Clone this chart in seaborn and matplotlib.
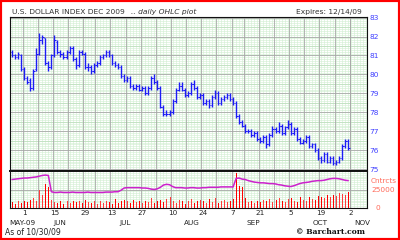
import numpy as np
import pandas as pd
import matplotlib
matplotlib.use('Agg')
import matplotlib.pyplot as plt
import matplotlib.transforms as mtransforms
from matplotlib.patches import Rectangle
import seaborn as sns

sns.set_style('white')
plt.rcParams['font.family'] = ['DejaVu Sans']

# ---------------- data ----------------
open_ = [81.2, 81.0, 80.9, 81.0, 80.3, 79.8, 79.7, 79.3, 80.3, 81.1,
         81.8, 81.9, 80.6, 80.4, 81.0, 81.7, 81.2, 81.1, 80.9, 81.2,
         81.4, 80.8, 80.5, 81.2, 81.1, 80.4, 80.4, 80.2, 80.5, 80.6,
         80.9, 81.0, 81.2, 81.0, 80.6, 80.5, 80.4, 79.9, 79.7, 79.8,
         79.4, 79.3, 79.4, 79.2, 79.3, 79.0, 79.3, 79.8, 79.6, 79.3,
         78.3, 77.9, 77.9, 78.0, 78.6, 79.2, 79.4, 79.2, 78.9, 79.0,
         79.5, 79.3, 78.8, 78.9, 78.5, 78.6, 78.4, 78.8, 79.0, 78.5,
         78.7, 78.8, 78.9, 78.7, 78.5, 77.8, 77.5, 77.3, 77.0, 77.0,
         76.8, 76.9, 76.6, 76.5, 76.7, 76.3, 76.8, 77.1, 77.0, 77.3,
         76.9, 77.2, 77.4, 76.9, 77.1, 76.6, 76.4, 76.5, 76.7, 76.2,
         76.3, 76.0, 75.6, 75.5, 75.8, 75.4, 75.6, 75.3, 75.4, 75.6,
         76.2, 76.5]
high = [81.3, 81.1, 81.2, 81.1, 80.4, 79.9, 79.8, 80.3, 81.4, 82.2,
        82.1, 81.9, 80.7, 81.1, 82.1, 81.8, 81.3, 81.2, 81.3, 81.5,
        81.5, 80.9, 81.3, 81.3, 81.2, 80.6, 80.5, 80.6, 80.7, 81.0,
        81.1, 81.3, 81.3, 81.1, 80.7, 80.6, 80.5, 80.0, 79.9, 79.9,
        79.5, 79.5, 79.5, 79.4, 79.4, 79.4, 79.9, 80.0, 79.7, 79.4,
        78.4, 78.1, 78.1, 78.7, 79.3, 79.6, 79.6, 79.3, 79.1, 79.6,
        79.7, 79.4, 79.0, 79.0, 78.7, 78.7, 78.9, 79.2, 79.1, 78.8,
        78.9, 79.0, 79.0, 78.8, 78.6, 77.9, 77.6, 77.4, 77.1, 77.1,
        77.0, 77.0, 76.7, 76.8, 76.8, 76.9, 77.3, 77.2, 77.5, 77.4,
        77.3, 77.6, 77.5, 77.2, 77.2, 76.7, 76.6, 76.8, 76.8, 76.4,
        76.4, 76.1, 75.7, 75.9, 75.9, 75.7, 75.7, 75.5, 75.7, 76.3,
        76.6, 76.6]
low = [80.9, 80.8, 80.8, 80.2, 79.7, 79.5, 79.1, 79.2, 80.2, 81.0,
       81.6, 80.5, 80.2, 80.3, 80.9, 81.1, 80.9, 80.8, 80.8, 81.1,
       80.7, 80.3, 80.4, 81.0, 80.3, 80.2, 80.0, 80.1, 80.4, 80.5,
       80.8, 80.9, 80.9, 80.5, 80.4, 80.3, 79.8, 79.6, 79.6, 79.3,
       79.2, 79.2, 79.1, 79.1, 78.9, 78.9, 79.2, 79.5, 79.2, 78.2,
       77.8, 77.8, 77.8, 77.9, 78.5, 79.1, 79.1, 78.8, 78.8, 78.9,
       79.2, 78.7, 78.7, 78.4, 78.4, 78.2, 78.3, 78.7, 78.4, 78.4,
       78.6, 78.7, 78.6, 78.4, 77.7, 77.4, 77.2, 76.9, 76.9, 76.7,
       76.7, 76.5, 76.4, 76.4, 76.1, 76.2, 76.7, 76.9, 76.9, 76.8,
       76.8, 77.1, 76.8, 76.8, 76.5, 76.3, 76.3, 76.4, 76.1, 76.1,
       75.9, 75.5, 75.3, 75.4, 75.3, 75.3, 75.2, 75.2, 75.3, 75.5,
       76.1, 76.0]
close = [81.0, 80.9, 81.1, 80.3, 79.8, 79.6, 79.3, 80.2, 81.1, 81.8,
         82.0, 80.6, 80.4, 81.0, 81.8, 81.2, 81.1, 80.9, 81.2, 81.4,
         80.8, 80.5, 81.2, 81.1, 80.4, 80.4, 80.2, 80.5, 80.6, 80.9,
         81.0, 81.2, 81.0, 80.6, 80.5, 80.4, 79.9, 79.7, 79.8, 79.4,
         79.3, 79.4, 79.2, 79.3, 79.0, 79.3, 79.8, 79.6, 79.3, 78.3,
         77.9, 77.9, 78.0, 78.6, 79.2, 79.4, 79.2, 78.9, 79.0, 79.5,
         79.3, 78.8, 78.9, 78.5, 78.6, 78.4, 78.8, 79.0, 78.5, 78.7,
         78.8, 78.9, 78.7, 78.5, 77.8, 77.5, 77.3, 77.0, 77.0, 76.8,
         76.9, 76.6, 76.5, 76.7, 76.3, 76.8, 77.1, 77.0, 77.3, 76.9,
         77.2, 77.4, 76.9, 77.1, 76.6, 76.4, 76.5, 76.7, 76.2, 76.3,
         76.0, 75.6, 75.5, 75.8, 75.4, 75.6, 75.3, 75.4, 75.6, 76.2,
         76.5, 76.1]
volume = [8000, 6000, 9000, 7000, 10000, 8000, 11000, 13000, 9000, 25000,
          18000, 33000, 28000, 11000, 8000, 7000, 9000, 6000, 9000, 7000,
          10000, 8000, 9000, 7000, 11000, 8000, 7000, 10000, 6000, 9000,
          7000, 10000, 8000, 6000, 12000, 7000, 9000, 11000, 9000, 7000,
          11000, 8000, 10000, 7000, 9000, 8000, 13000, 7000, 10000, 11000,
          8000, 12000, 15000, 9000, 7000, 11000, 9000, 6000, 10000, 12000,
          7000, 9000, 11000, 9000, 7000, 12000, 8000, 13000, 7000, 10000,
          11000, 8000, 10000, 12000, 47000, 30000, 29000, 14000, 8000, 10000,
          7000, 10000, 8000, 11000, 9000, 12000, 8000, 11000, 13000, 9000,
          8000, 12000, 14000, 10000, 8000, 15000, 11000, 9000, 15000, 12000,
          11000, 16000, 15000, 14000, 17000, 15000, 18000, 16000, 20000, 19000,
          17000, 21000]
open_interest = [38500, 39000, 39500, 40000, 40500, 40500, 41000, 41500, 42000, 43000,
                 44000, 44500, 44000, 22000, 21000, 21000, 21500, 21000, 21000, 21000,
                 21500, 21000, 21000, 21000, 21000, 21500, 21000, 21000, 21000, 21000,
                 21000, 21500, 21500, 21500, 22000, 22000, 24000, 27000, 27500, 27500,
                 27500, 27500, 27500, 27000, 27000, 26500, 25500, 25000, 26000, 28000,
                 31000, 32000, 31500, 29000, 27500, 27500, 27500, 27000, 27000, 27500,
                 27500, 27000, 27000, 27500, 27500, 28000, 28000, 28000, 28000, 28500,
                 28500, 28500, 28500, 28500, 40000, 40500, 39000, 38500, 37000, 36000,
                 35000, 34500, 34000, 34000, 33500, 33000, 33000, 32500, 31500, 31000,
                 30000, 29500, 29000, 30000, 31500, 33000, 34000, 34500, 35000, 36000,
                 36500, 37000, 37000, 37500, 38500, 39500, 40000, 40000, 39500, 38500,
                 37500, 37000]

price_ticks = [83, 82, 81, 80, 79, 78, 77, 76, 75]
day_tick_dates = ['2009-06-01', '2009-06-15', '2009-06-29', '2009-07-13',
                  '2009-07-27', '2009-08-10', '2009-08-24', '2009-09-07',
                  '2009-09-21', '2009-10-05', '2009-10-19', '2009-11-02']
day_tick_labels = ['1', '15', '29', '13', '27', '10', '24', '7', '21', '5', '19', '2']
month_labels = ['MAY-09', 'JUN', 'JUL', 'AUG', 'SEP', 'OCT', 'NOV']

n = min(len(open_), len(high), len(low), len(close), len(volume), len(open_interest))
dates = pd.bdate_range('2009-05-26', '2009-10-30', freq='C',
                       holidays=['2009-07-03', '2009-09-07'])[:n]
df = pd.DataFrame({'i': np.arange(n), 'open': open_[:n], 'high': high[:n],
                   'low': low[:n], 'close': close[:n], 'vol': volume[:n],
                   'oi': open_interest[:n]})

tick_pos = [int(dates.searchsorted(pd.Timestamp(d))) for d in day_tick_dates]
all_mondays = pd.date_range('2009-05-18', '2009-11-09', freq='W-MON')
week_pos = [int(dates.searchsorted(d)) - 0.5 for d in all_mondays]

# ---------------- figure ----------------
W, H = 400, 240
fig = plt.figure(figsize=(4, 2.4), dpi=100)
fig.patch.set_facecolor('white')

def fx(px):
    return px / W

def fy(py):
    return 1 - py / H

ax = fig.add_axes([fx(10), fy(171), fx(367) - fx(10), fy(17) - fy(171)])
ax2 = fig.add_axes([fx(10), fy(208), fx(367) - fx(10), fy(171) - fy(208)])

xlim = (-0.66, 117.2)
for a in (ax, ax2):
    a.set_xlim(*xlim)
    a.set_facecolor('white')
    for s in a.spines.values():
        s.set_color('#111111')
        s.set_linewidth(0.8)
    for i in range(-1, 119):
        a.axvline(i, color='#d4f0d4', lw=0.45, zorder=0)
    for p in week_pos:
        a.axvline(p, color='#a8a8a8', lw=0.6, zorder=0.5)

ax.set_ylim(74.9, 83.03)
for v in np.arange(74.9, 83.05, 0.1):
    ax.axhline(v, color='#d4f0d4', lw=0.45, zorder=0)
for v in np.arange(75.5, 83, 1.0):
    ax.axhline(v, color='#b8dcb8', lw=0.5, zorder=0.3)
for v in price_ticks:
    ax.axhline(v, color='#a8a8a8', lw=0.6, zorder=0.5)
ax.spines['bottom'].set_linewidth(1.4)

# OHLC bars
bar_color = '#1c1cf5'
ax.vlines(df['i'], df['low'], df['high'], color=bar_color, lw=1.0, zorder=3)
ax.hlines(df['open'], df['i'] - 0.45, df['i'], color=bar_color, lw=0.8, zorder=3)
ax.hlines(df['close'], df['i'], df['i'] + 0.45, color=bar_color, lw=0.8, zorder=3)

ax.yaxis.tick_right()
ax.set_yticks(price_ticks)
ax.set_yticklabels([str(t) for t in price_ticks])
ax.tick_params(axis='y', length=0, pad=2, labelsize=5.3, labelcolor='#4040ff')
ax.set_xticks([])

# lower panel
for v in np.arange(0, 50001, 2500):
    ax2.axhline(v, color='#d4f0d4', lw=0.45, zorder=0)
ax2.axhline(25000, color='#a8a8a8', lw=0.6, zorder=0.5)
ax2.spines['top'].set_linewidth(1.4)
vol_colors = np.where(df['close'] < df['open'], '#ff0000', '#ff3c3c')
ax2.vlines(df['i'], 0, df['vol'], colors=vol_colors, lw=0.72,
           antialiased=False, zorder=3)
sns.lineplot(data=df, x='i', y='oi', ax=ax2, color='#cc22cc', lw=1.1, zorder=4)
ax2.set_xlim(*xlim)
ax2.set_ylim(0, 50000)
ax2.set_ylabel('')
ax2.set_xlabel('')
ax2.set_yticks([])
ax2.set_xticks(tick_pos)
ax2.set_xticklabels(day_tick_labels)
ax2.tick_params(axis='x', length=0, pad=1.5, labelsize=5.2, labelcolor='#222222')

trans2 = mtransforms.blended_transform_factory(fig.transFigure, ax2.transData)
ax2.text(fx(371), 37000, 'Cntrcts', transform=trans2, fontsize=5.3,
         color='#ff6a5a', va='center', ha='left')
ax2.text(fx(371), 25000, '25000', transform=trans2, fontsize=5.3,
         color='#ff6a5a', va='center', ha='left')
ax2.text(fx(376), 0, '0', transform=trans2, fontsize=5.3,
         color='#ff6a5a', va='center', ha='left')

# month labels
month_px = [22, 60, 125, 192, 253, 320, 362]
for lab, px in zip(month_labels, month_px):
    fig.text(fx(px), fy(223), lab, fontsize=5.2, color='#222222',
             ha='center', va='center')

# titles and footer
fig.text(fx(12), fy(12), 'U.S. DOLLAR INDEX DEC 2009', fontsize=5.4,
         color='#333333', ha='left', va='center')
fig.text(fx(131), fy(12), '.. daily OHLC plot', fontsize=5.4, style='italic',
         color='#333333', ha='left', va='center')
fig.text(fx(362), fy(12), 'Expires: 12/14/09', fontsize=5.4,
         color='#333333', ha='right', va='center')
fig.text(fx(5), fy(232), 'As of 10/30/09', fontsize=5.5,
         color='#222222', ha='left', va='center')
fig.text(fx(365), fy(232), '\u00a9 Barchart.com', fontsize=5.5,
         family='DejaVu Serif', weight='bold', color='#111111',
         ha='right', va='center')

fig.patches.append(Rectangle((0, 0), 1, 1, transform=fig.transFigure,
                             fill=False, edgecolor='#ff0000', lw=3.0))

fig.savefig('out.png', dpi=100, facecolor='white')
